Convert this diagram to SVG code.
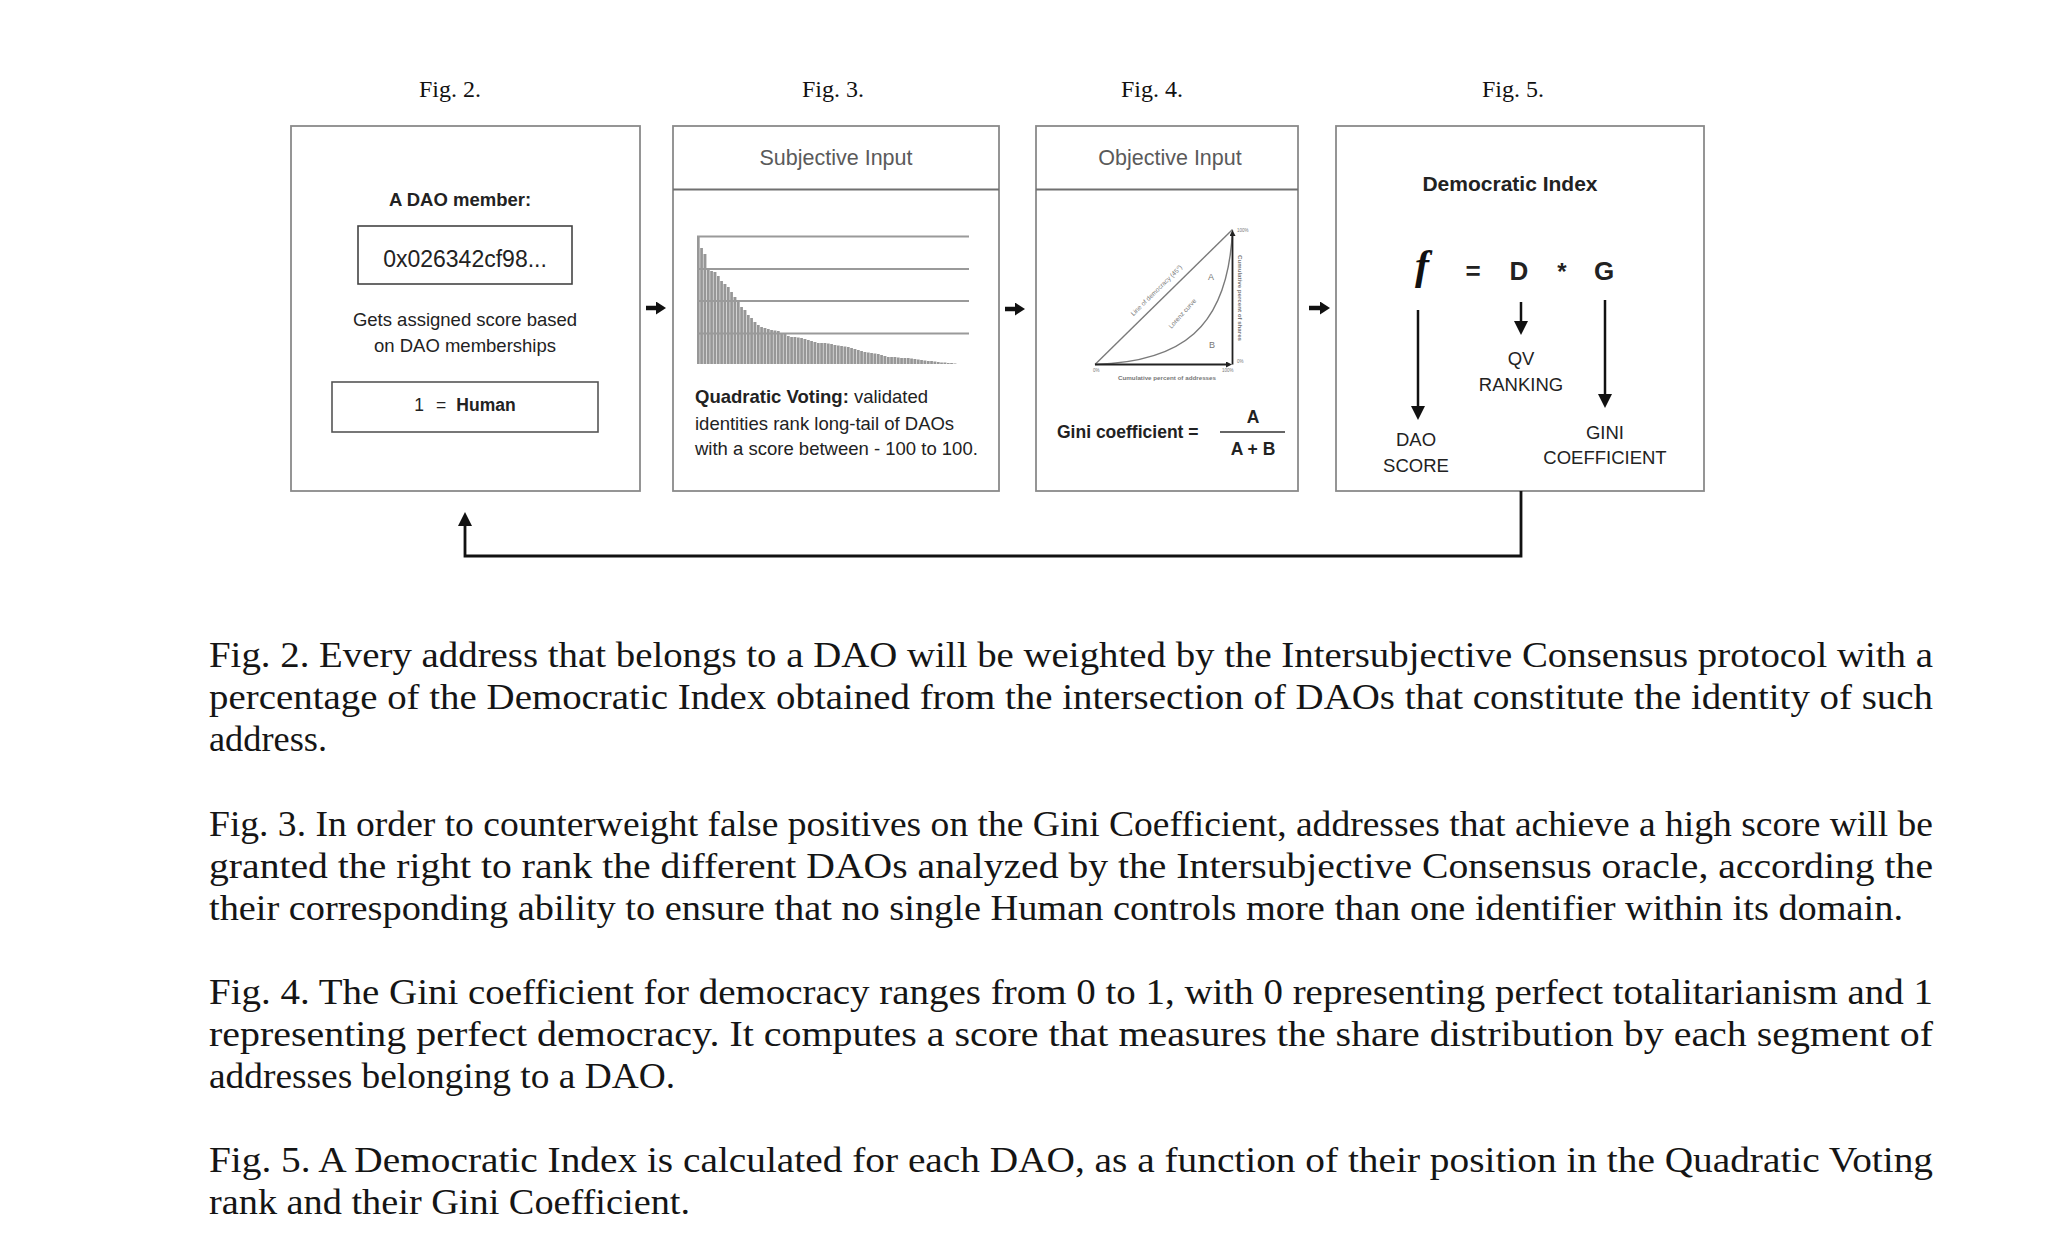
<svg xmlns="http://www.w3.org/2000/svg" width="2068" height="1246" viewBox="0 0 2068 1246">
<style>
  .box{fill:#fff;stroke:#8a8a8a;stroke-width:1.8}
  .div{stroke:#707070;stroke-width:1.8}
  .fig{font-family:"Liberation Serif",serif;font-size:24px;fill:#111;text-anchor:middle}
  .sans{font-family:"Liberation Sans",Arial,sans-serif;fill:#222}
  .hdr{font-family:"Liberation Sans",Arial,sans-serif;font-size:21.5px;fill:#5a5a5a;text-anchor:middle}
  .mid{text-anchor:middle}
  .b{font-weight:bold}
  .body{font-family:"Liberation Serif",serif;font-size:36px;fill:#151515}
  .grid{stroke:#9a9a9a;stroke-width:2}
  .tiny{font-family:"Liberation Sans",Arial,sans-serif;fill:#777}
  .conn{fill:none;stroke:#111;stroke-width:2.8}
  .fat{fill:none;stroke:#111;stroke-width:4.5}
  .farr{fill:none;stroke:#111;stroke-width:2.5}
</style>
<defs>
  <marker id="head" viewBox="0 0 10 10" refX="0" refY="5" markerUnits="userSpaceOnUse" markerWidth="14" markerHeight="14" orient="auto">
    <path d="M0,0 L10,5 L0,10 z" fill="#111"/>
  </marker>
  <marker id="small" viewBox="0 0 10 13" refX="0" refY="6.5" markerUnits="userSpaceOnUse" markerWidth="10" markerHeight="13" orient="auto">
    <path d="M0,0 L10,6.5 L0,13 z" fill="#111"/>
  </marker>
  <marker id="tinyhead" viewBox="0 0 10 10" refX="0" refY="5" markerUnits="userSpaceOnUse" markerWidth="6" markerHeight="6" orient="auto">
    <path d="M0,0 L10,5 L0,10 z" fill="#222"/>
  </marker>
  <pattern id="stripes" x="697" y="0" width="3.333" height="10" patternUnits="userSpaceOnUse">
    <rect x="0" y="0" width="2.8" height="10" fill="#979797"/>
  </pattern>
</defs>
<rect width="2068" height="1246" fill="#fff"/>

<!-- Figure labels -->
<g id="fig-labels">
  <text class="fig" x="450" y="97">Fig. 2.</text>
  <text class="fig" x="833" y="97">Fig. 3.</text>
  <text class="fig" x="1152" y="97">Fig. 4.</text>
  <text class="fig" x="1513" y="97">Fig. 5.</text>
</g>

<!-- Fig. 2 node -->
<g id="node-fig2">
  <rect class="box" x="291" y="126" width="349" height="365"/>
  <text class="sans b mid" x="460" y="206" font-size="18.5">A DAO member:</text>
  <rect x="358" y="226" width="214" height="58" fill="none" stroke="#444" stroke-width="1.6"/>
  <text class="sans mid" x="465" y="267" font-size="23" fill="#222">0x026342cf98...</text>
  <text class="sans mid" x="465" y="326" font-size="18.5" fill="#333">Gets assigned score based</text>
  <text class="sans mid" x="465" y="352" font-size="18.5" fill="#333">on DAO memberships</text>
  <rect x="332" y="382" width="266" height="50" fill="none" stroke="#555" stroke-width="1.6"/>
  <text class="sans mid" x="465" y="411" font-size="17.5"><tspan>1</tspan><tspan dx="12">=</tspan><tspan dx="10" font-weight="bold">Human</tspan></text>
</g>

<!-- Fig. 3 node -->
<g id="node-fig3">
  <rect class="box" x="673" y="126" width="326" height="365"/>
  <line class="div" x1="673" y1="189.5" x2="999" y2="189.5"/>
  <text class="hdr" x="836" y="165">Subjective Input</text>
  <path fill="url(#stripes)" d="M697,364 V236.7 H700 V248 H703 V254 H707 V268 H710 V271 H713 V272 H717 V276 H720 V281 H723 V284 H727 V287 H730 V292 H733 V297 H737 V302 H740 V307 H743 V310 H747 V315 H750 V318 H753 V322 H757 V325 H760 V327 H763 V328 H767 V329 H770 V330 H773 V330.5 H777 V331 H780 V333 H783 V334 H787 V336 H790 V337 H797 V337.5 H800 V338 H803 V339 H807 V340 H810 V341 H813 V342 H817 V343 H827 V343.5 H830 V344 H833 V345 H837 V345.5 H840 V346 H843 V346.5 H847 V347 H850 V348 H853 V349 H857 V350 H860 V351 H863 V352 H867 V352.5 H870 V353 H873 V353.5 H877 V354 H880 V355 H883 V356 H887 V357 H897 V357.5 H900 V358 H910 V358.5 H913 V359 H917 V359.5 H920 V360 H923 V360.5 H927 V361 H933 V361.5 H937 V362 H940 V362.5 H947 V363 H953 V363.5 H957 V364 Z"/>
  <line class="grid" x1="697" y1="236.5" x2="969" y2="236.5"/>
  <line class="grid" x1="697" y1="269" x2="969" y2="269"/>
  <line class="grid" x1="697" y1="301" x2="969" y2="301"/>
  <line class="grid" x1="697" y1="333.5" x2="969" y2="333.5"/>
  <text class="sans" x="695" y="403" font-size="18.5" fill="#222"><tspan font-weight="bold">Quadratic Voting:</tspan> validated</text>
  <text class="sans" x="695" y="430" font-size="18.5" fill="#222">identities rank long-tail of DAOs</text>
  <text class="sans" x="695" y="455" font-size="18.5" fill="#222">with a score between - 100 to 100.</text>
</g>

<!-- Fig. 4 node -->
<g id="node-fig4">
  <rect class="box" x="1036" y="126" width="262" height="365"/>
  <line class="div" x1="1036" y1="189.5" x2="1298" y2="189.5"/>
  <text class="hdr" x="1170" y="165">Objective Input</text>
  <line x1="1095" y1="364.5" x2="1232.5" y2="229.5" stroke="#7a7a7a" stroke-width="1.4"/>
  <path d="M1095,364.5 C1180,362 1228,330 1232.5,230" fill="none" stroke="#7a7a7a" stroke-width="1.4"/>
  <line x1="1095" y1="364.5" x2="1226" y2="364.5" stroke="#222" stroke-width="1.8" marker-end="url(#tinyhead)"/>
  <line x1="1232.5" y1="364.5" x2="1232.5" y2="236" stroke="#222" stroke-width="1.8" marker-end="url(#tinyhead)"/>
  <text class="tiny mid" font-size="6.5" transform="translate(1158,292) rotate(-44.6)">Line of democracy (45°)</text>
  <text class="tiny mid" font-size="6.5" transform="translate(1184,315) rotate(-48)">Lorenz curve</text>
  <text class="tiny mid" font-size="9" x="1211" y="280">A</text>
  <text class="tiny mid" font-size="9" x="1212" y="348">B</text>
  <text class="tiny mid b" font-size="5" x="1167" y="380" fill="#555" textLength="98" lengthAdjust="spacingAndGlyphs">Cumulative percent of addresses</text>
  <text class="tiny mid b" font-size="5" transform="translate(1238,298) rotate(90)" fill="#555" textLength="86" lengthAdjust="spacingAndGlyphs">Cumulative percent of shares</text>
  <text class="tiny" font-size="4.5" x="1237" y="232" fill="#999">100%</text>
  <text class="tiny" font-size="4.5" x="1093" y="372" fill="#999">0%</text>
  <text class="tiny" font-size="4.5" x="1222" y="372" fill="#999">100%</text>
  <text class="tiny" font-size="4.5" x="1237" y="363" fill="#999">0%</text>
  <text class="sans b" x="1057" y="438" font-size="17.5" fill="#222">Gini coefficient =</text>
  <text class="sans b mid" x="1253" y="423" font-size="17.5" fill="#222">A</text>
  <line x1="1220" y1="432" x2="1285" y2="432" stroke="#333" stroke-width="1.5"/>
  <text class="sans b mid" x="1253" y="455" font-size="17.5" fill="#222">A + B</text>
</g>

<!-- Fig. 5 node -->
<g id="node-fig5">
  <rect class="box" x="1336" y="126" width="368" height="365"/>
  <text class="sans b mid" x="1510" y="191" font-size="21" fill="#111">Democratic Index</text>
  <text x="1422" y="279" font-family="Liberation Serif,serif" font-style="italic" font-weight="bold" font-size="42" fill="#111" text-anchor="middle">f</text>
  <text class="sans b mid" x="1473" y="280" font-size="26" fill="#111">=</text>
  <text class="sans b mid" x="1519" y="280" font-size="26" fill="#111">D</text>
  <text class="sans b mid" x="1562" y="280" font-size="24" fill="#111">*</text>
  <text class="sans b mid" x="1604" y="280" font-size="26" fill="#111">G</text>
  <line class="farr" x1="1418" y1="310" x2="1418" y2="406" marker-end="url(#head)"/>
  <line class="farr" x1="1521" y1="302" x2="1521" y2="321" marker-end="url(#head)"/>
  <line class="farr" x1="1605" y1="300" x2="1605" y2="394" marker-end="url(#head)"/>
  <text class="sans mid" x="1521" y="365" font-size="18.5">QV</text>
  <text class="sans mid" x="1521" y="391" font-size="18.5">RANKING</text>
  <text class="sans mid" x="1416" y="446" font-size="18.5">DAO</text>
  <text class="sans mid" x="1416" y="472" font-size="18.5">SCORE</text>
  <text class="sans mid" x="1605" y="439" font-size="18.5">GINI</text>
  <text class="sans mid" x="1605" y="464" font-size="18.5">COEFFICIENT</text>
</g>

<!-- Connectors -->
<g id="connectors">
  <line class="fat" x1="646" y1="308" x2="656" y2="308" marker-end="url(#small)"/>
  <line class="fat" x1="1005" y1="309" x2="1015" y2="309" marker-end="url(#small)"/>
  <line class="fat" x1="1309" y1="308" x2="1320" y2="308" marker-end="url(#small)"/>
  <polyline class="conn" points="1521,491 1521,556 465,556 465,526" marker-end="url(#head)"/>
</g>

<!-- Captions -->
<g id="captions">
  <text class="body" x="209" y="667" textLength="1724" lengthAdjust="spacingAndGlyphs">Fig. 2. Every address that belongs to a DAO will be weighted by the Intersubjective Consensus protocol with a</text>
  <text class="body" x="209" y="709" textLength="1724" lengthAdjust="spacingAndGlyphs">percentage of the Democratic Index obtained from the intersection of DAOs that constitute the identity of such</text>
  <text class="body" x="209" y="751" textLength="118" lengthAdjust="spacingAndGlyphs">address.</text>
  <text class="body" x="209" y="836" textLength="1724" lengthAdjust="spacingAndGlyphs">Fig. 3. In order to counterweight false positives on the Gini Coefficient, addresses that achieve a high score will be</text>
  <text class="body" x="209" y="878" textLength="1724" lengthAdjust="spacingAndGlyphs">granted the right to rank the different DAOs analyzed by the Intersubjective Consensus oracle, according the</text>
  <text class="body" x="209" y="920" textLength="1694" lengthAdjust="spacingAndGlyphs">their corresponding ability to ensure that no single Human controls more than one identifier within its domain.</text>
  <text class="body" x="209" y="1004" textLength="1724" lengthAdjust="spacingAndGlyphs">Fig. 4. The Gini coefficient for democracy ranges from 0 to 1, with 0 representing perfect totalitarianism and 1</text>
  <text class="body" x="209" y="1046" textLength="1724" lengthAdjust="spacingAndGlyphs">representing perfect democracy. It computes a score that measures the share distribution by each segment of</text>
  <text class="body" x="209" y="1088" textLength="466" lengthAdjust="spacingAndGlyphs">addresses belonging to a DAO.</text>
  <text class="body" x="209" y="1172" textLength="1724" lengthAdjust="spacingAndGlyphs">Fig. 5. A Democratic Index is calculated for each DAO, as a function of their position in the Quadratic Voting</text>
  <text class="body" x="209" y="1214" textLength="481" lengthAdjust="spacingAndGlyphs">rank and their Gini Coefficient.</text>
</g>
</svg>
